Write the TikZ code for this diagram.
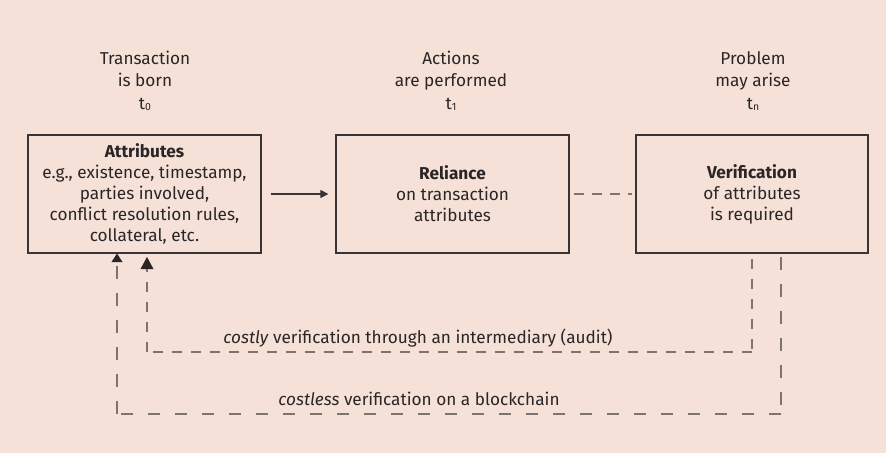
\documentclass[tikz,border=0pt]{standalone}
\usepackage{fontspec}
\setmainfont{Fira Sans}
\usetikzlibrary{arrows.meta,calc}
\definecolor{bgc}{HTML}{F5E1D7}
\definecolor{txt}{HTML}{2B2526}
\definecolor{boxl}{HTML}{3A3334}
\definecolor{dashc}{HTML}{7D7371}
\newcommand{\tsub}[1]{t{\fontsize{10.5}{10.5}\selectfont\raisebox{-0.5pt}{#1}}}
\tikzset{
  boxnode/.style={draw=boxl,line width=1.2pt,minimum width=233pt,minimum height=118pt,
    inner sep=0pt,align=center,text=txt,font=\fontsize{17.2}{21}\selectfont},
  toplabel/.style={align=center,text=txt,font=\fontsize{17.2}{22}\selectfont},
  pathlabel/.style={text=txt,font=\fontsize{17.2}{19}\selectfont},
  dashline/.style={draw=dashc,line width=1.2pt},
}
\begin{document}
\begin{tikzpicture}[x=1pt,y=-1pt]
\fill[bgc] (0,0) rectangle (886,453);
\useasboundingbox (0,0) rectangle (886,453);

\node[boxnode] (attr) at (144.5,194) {\textbf{Attributes}\\e.g., existence, timestamp,\\parties involved,\\conflict resolution rules,\\collateral, etc.};
\node[boxnode] (rel) at (452.5,194) {\textbf{Reliance}\\on transaction\\attributes};
\node[boxnode,minimum width=232pt] (ver) at (752,194) {\textbf{Verification}\\of attributes\\is required};

\node[toplabel] (l0) at (145,81) {Transaction\\is born\\[1pt]\tsub{0}};
\node[toplabel] (l1) at (451,81) {Actions\\are performed\\[1pt]\tsub{1}};
\node[toplabel] (l2) at (753,81) {Problem\\may arise\\[1pt]\tsub{n}};

\draw[boxl,line width=1.1pt,-{Triangle[length=8pt,width=8pt]},shorten <=9pt,shorten >=7pt] (attr.east) -- (rel.west);
\draw[dashline,dash pattern=on 10pt off 8pt,shorten <=4pt,shorten >=3pt] (rel.east) -- (ver.west);

\coordinate (c1) at ($(ver.south)+(0,5)$);
\coordinate (c2) at (752,352);
\coordinate (c3) at (147,352);
\coordinate (c4) at (147,269);
\draw[dashline,dash pattern=on 10pt off 10pt] (c1) -- (c2);
\draw[dashline,dash pattern=on 10pt off 9pt] (c2) -- (c3);
\draw[dashline,dash pattern=on 10pt off 10pt] (c3) -- (c4);
\fill[txt] (147,257) -- (140.5,269) -- (153.5,269) -- cycle;

\coordinate (d1) at (781,257);
\coordinate (d2) at (781,414);
\coordinate (d3) at (117,414);
\coordinate (d4) at (117,262);
\draw[dashline,dash pattern=on 13pt off 14pt] (d1) -- (d2);
\draw[dashline,dash pattern=on 12pt off 15pt] (d2) -- (d3);
\draw[dashline,dash pattern=on 13pt off 14pt] (d3) -- (d4);
\fill[txt] (117,253.5) -- (111.5,262) -- (122.5,262) -- cycle;

\node[pathlabel] (t1) at (418,338) {\textit{costly} verification through an intermediary (audit)};
\node[pathlabel] (t2) at (419,399) {\textit{costless} verification on a blockchain};
\end{tikzpicture}
\end{document}
